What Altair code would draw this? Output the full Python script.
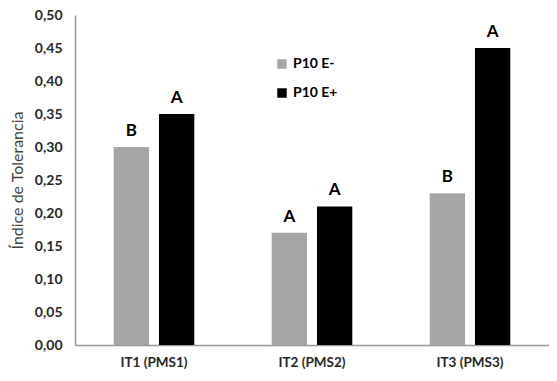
import altair as alt
import pandas as pd

categories = ["IT1 (PMS1)", "IT2 (PMS2)", "IT3 (PMS3)"]
series = ["P10 E-", "P10 E+"]
values_minus = [0.30, 0.17, 0.23]
values_plus = [0.35, 0.21, 0.45]
letters_minus = ["B", "A", "B"]
letters_plus = ["A", "A", "A"]
y_ticks = [0, 0.05, 0.10, 0.15, 0.20, 0.25, 0.30, 0.35, 0.40, 0.45, 0.50]

rows = []
for i, c in enumerate(categories):
    rows.append({"cat": c, "serie": series[0], "val": values_minus[i], "letter": letters_minus[i]})
    rows.append({"cat": c, "serie": series[1], "val": values_plus[i], "letter": letters_plus[i]})
df = pd.DataFrame(rows)

FONT = "Lato"

x = alt.X("cat:N", sort=categories, title=None,
          scale=alt.Scale(paddingInner=0.49, paddingOuter=0.245),
          axis=alt.Axis(labelAngle=0, labelFont=FONT, labelFontWeight="bold",
                        labelFontSize=13.5, labelColor="#262626", ticks=False,
                        labelPadding=10, domainColor="#999999", domainWidth=1.5))
xoff = alt.XOffset("serie:N", sort=series,
                   scale=alt.Scale(paddingInner=0.22, paddingOuter=0))
y = alt.Y("val:Q", title="Índice de Tolerancia",
          scale=alt.Scale(domain=[0, 0.5], nice=False),
          axis=alt.Axis(values=y_ticks, grid=False, ticks=False, labelOverlap=False,
                        labelExpr="replace(format(datum.value, '.2f'), '.', ',')",
                        labelFont=FONT, labelFontWeight="bold", labelFontSize=14,
                        labelColor="#262626", labelPadding=13,
                        titleFont=FONT, titleFontWeight="normal", titleFontSize=16,
                        titleColor="#404040", titlePadding=9,
                        domainColor="#999999", domainWidth=1.5))
color = alt.Color("serie:N", sort=series, title=None,
                  scale=alt.Scale(domain=series, range=["#A5A5A5", "#000000"]),
                  legend=alt.Legend(orient="none", legendX=200, legendY=42,
                                    symbolType="square", symbolSize=90,
                                    symbolStrokeWidth=0, labelFont=FONT,
                                    labelFontWeight="bold", labelFontSize=14,
                                    labelColor="#000000", rowPadding=15,
                                    labelOffset=4))

base = alt.Chart(df).encode(x=x, xOffset=xoff, y=y)
bars = base.mark_bar().encode(color=color)
text = base.mark_text(baseline="bottom", dy=-7, font=FONT,
                      fontWeight="bold", fontSize=17, color="#000000").encode(text="letter:N")

chart = alt.layer(bars, text).properties(
    width=474, height=330,
    autosize=alt.AutoSizeParams(type="none"),
    padding={"left": 67, "top": 7, "right": 0, "bottom": 28},
).configure_view(stroke=None)

chart.save("out.html", embed_options={"renderer": "svg", "actions": False})
